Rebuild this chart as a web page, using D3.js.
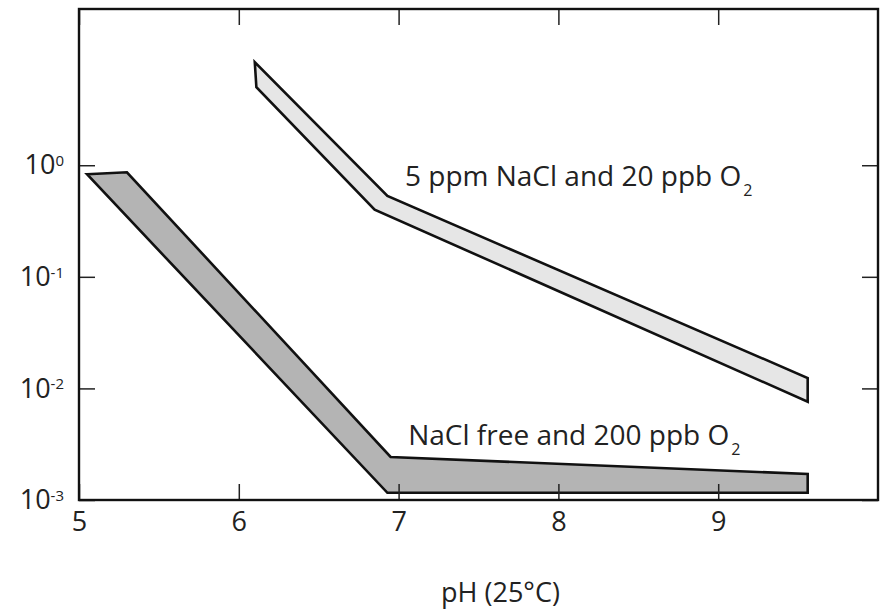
<!DOCTYPE html>
<html>
<head>
<meta charset="utf-8">
<script src="https://cdn.jsdelivr.net/npm/d3@7"></script>
<style>
  body { margin: 0; background: #fff; }
  svg text { font-family: "Open Sans", "Noto Sans", sans-serif; fill: #222; }
</style>
</head>
<body>
<div id="chart"></div>
<script>
// band outlines, [pH, rate] going round each polygon
var bandChloride = [[6.10, 8.4], [6.93, 0.53], [9.56, 0.0124], [9.56, 0.0076], [6.85, 0.40], [6.11, 5.0]];
var bandFree = [[5.05, 0.83], [5.30, 0.865], [6.95, 0.00243], [9.56, 0.00171], [9.56, 0.00116], [6.93, 0.00116]];

var xTicks = [5, 6, 7, 8, 9];
var yTicks = [1e-3, 1e-2, 1e-1, 1];

var labels = [
  { pH: 7.04, v: 0.65, main: '5 ppm NaCl and 20 ppb O', sub: '2' },
  { pH: 7.06, v: 0.0031, main: 'NaCl free and 200 ppb O', sub: '2' }
];

var width = 884, height = 609;
var margin = { left: 79, top: 9, right: 6, bottom: 109 };

var svg = d3.select('#chart').append('svg')
  .attr('width', width)
  .attr('height', height);

var x = d3.scaleLinear()
  .domain([5, 10])
  .range([margin.left, width - margin.right]);

var y = d3.scaleLog()
  .domain([1e-3, Math.pow(10, 1.4)])
  .range([height - margin.bottom, margin.top]);

var line = d3.line()
  .x(function(d) { return x(d[0]); })
  .y(function(d) { return y(d[1]); });

// bands
svg.append('path')
  .attr('d', line(bandChloride) + 'Z')
  .attr('fill', '#e6e6e6')
  .attr('stroke', '#111')
  .attr('stroke-width', 2.6)
  .attr('stroke-linejoin', 'miter');

svg.append('path')
  .attr('d', line(bandFree) + 'Z')
  .attr('fill', '#b4b4b4')
  .attr('stroke', '#111')
  .attr('stroke-width', 2.6)
  .attr('stroke-linejoin', 'miter');

// axes
var tick = 16;
var gx = svg.append('g')
  .attr('transform', 'translate(0,' + y.range()[0] + ')')
  .call(d3.axisBottom(x).tickValues(xTicks).tickSizeInner(-tick).tickSizeOuter(0).tickPadding(12).tickFormat(d3.format('d')));

var gxTop = svg.append('g')
  .attr('transform', 'translate(0,' + y.range()[1] + ')')
  .call(d3.axisTop(x).tickValues(xTicks).tickSizeInner(-tick).tickSizeOuter(0).tickFormat(''));

var gy = svg.append('g')
  .attr('transform', 'translate(' + x.range()[0] + ',0)')
  .call(d3.axisLeft(y).tickValues(yTicks).tickSizeInner(-tick).tickSizeOuter(0).tickPadding(15));

var gyRight = svg.append('g')
  .attr('transform', 'translate(' + x.range()[1] + ',0)')
  .call(d3.axisRight(y).tickValues(yTicks).tickSizeInner(-tick).tickSizeOuter(0).tickFormat(''));

[gx, gxTop, gy, gyRight].forEach(function(g) {
  g.select('.domain').remove();
  g.selectAll('line').attr('stroke', '#222').attr('stroke-width', 1.5);
  g.selectAll('text').attr('font-size', 27).attr('fill', '#222')
    .attr('font-family', '"Open Sans", "Noto Sans", sans-serif');
});

// 10^n labels
gy.selectAll('.tick text').each(function(d) {
  var t = d3.select(this);
  t.text(null);
  t.append('tspan').text('10');
  t.append('tspan')
    .attr('dy', '-0.55em')
    .attr('font-size', 15)
    .text(Math.round(Math.log10(d)));
});

// frame
svg.append('rect')
  .attr('x', x.range()[0])
  .attr('y', y.range()[1])
  .attr('width', x.range()[1] - x.range()[0])
  .attr('height', y.range()[0] - y.range()[1])
  .attr('fill', 'none')
  .attr('stroke', '#111')
  .attr('stroke-width', 2.4);

// band labels
labels.forEach(function(l) {
  var t = svg.append('text')
    .attr('x', x(l.pH))
    .attr('y', y(l.v))
    .attr('font-size', 28);
  t.append('tspan').text(l.main);
  t.append('tspan')
    .attr('dx', 2)
    .attr('dy', 10)
    .attr('font-size', 16)
    .text(l.sub);
});

// axis title
svg.append('text')
  .attr('x', (x.range()[0] + x.range()[1]) / 2 + 22)
  .attr('y', 602)
  .attr('text-anchor', 'middle')
  .attr('font-size', 27)
  .text('pH (25°C)');
</script>
</body>
</html>
